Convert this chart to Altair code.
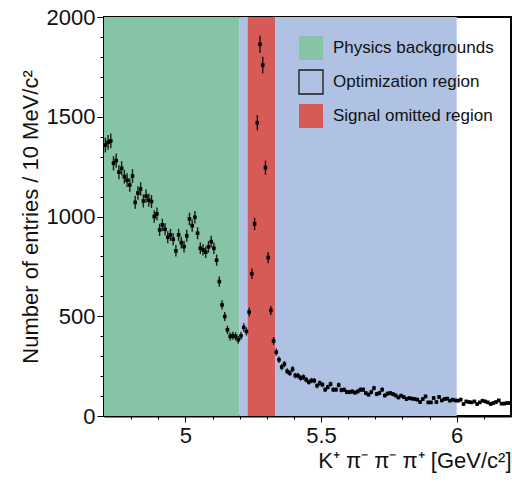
import altair as alt
import numpy as np
import pandas as pd

# ---- data (entries per 10 MeV/c^2 bin, 4.70 - 6.20 GeV/c^2)
bin_low = 4.70
bin_width = 0.01
counts = [
    1358, 1372, 1379, 1267, 1280, 1222, 1242, 1200, 1182, 1158, 1203, 1071, 1118, 1138,
    1078, 1102, 1082, 1075, 1000, 1013, 933, 958, 936, 896, 908, 886, 828, 908,
    869, 849, 903, 988, 954, 996, 916, 841, 833, 821, 848, 874, 841, 781, 674, 557,
    499, 432, 399, 402, 399, 382, 402, 444, 424,
    521, 713, 963, 1470, 1863, 1759, 1245, 794, 529, 376,
    320, 282, 245, 260, 224, 215, 235, 203, 202, 190, 195, 182, 170, 178, 177, 152,
    165, 157, 132, 145, 160, 132, 132, 155, 130, 132, 120, 120, 123, 117, 123, 132,
    132, 115, 107, 120, 140, 110, 115, 132, 103, 112,
    115, 110, 103, 93, 102, 95, 85, 90, 87, 85, 82, 70, 85, 98, 68, 68, 90, 70, 95,
    78, 85, 87, 77, 82, 78, 77, 82, 60, 73, 70, 68, 73, 60, 68, 77, 73, 68, 60, 65,
    70, 78, 62, 62, 65, 65,
]

region_names = ["Physics backgrounds", "Optimization region", "Signal omitted region"]
region_start = [4.70, 5.20, 5.23]
region_end = [5.20, 6.00, 5.33]
region_colors = ["#86C4A5", "#B0C2E3", "#D65A55"]

x_ticks = [4.8, 4.9, 5.0, 5.1, 5.2, 5.3, 5.4, 5.5, 5.6, 5.7, 5.8, 5.9, 6.0, 6.1]
y_ticks = list(range(0, 2001, 100))

centers = np.round(bin_low + bin_width * (np.arange(len(counts)) + 0.5), 4)
df = pd.DataFrame({"m": centers, "n": counts})
regions = pd.DataFrame({"name": region_names, "start": region_start, "end": region_end})

FONT = "Liberation Sans"

x_scale = alt.Scale(domain=[4.7, 6.2], nice=False, zero=False)
y_scale = alt.Scale(domain=[0, 2000], nice=False)

x_axis = alt.Axis(
    values=x_ticks,
    title="K⁺ π⁻ π⁻ π⁺ [GeV/c²]",
    titleAnchor="end",
    labelExpr="abs(datum.value*2 - round(datum.value*2)) < 0.001 ? '' + datum.value : ''",
    tickSize={"condition": {"test": "abs(datum.value*2 - round(datum.value*2)) < 0.001", "value": 6}, "value": 3},
    labelPadding=3,
    titlePadding=4,
)
y_axis = alt.Axis(
    values=y_ticks,
    title="Number of entries / 10 MeV/c²",
    labelExpr="datum.value % 500 == 0 ? '' + datum.value : ''",
    tickSize={"condition": {"test": "datum.value % 500 == 0", "value": 7}, "value": 4},
    labelPadding=2,
    titlePadding=4,
)

legend = alt.Legend(
    title=None,
    orient="none",
    legendX=194,
    legendY=18,
    symbolType="square",
    symbolSize=576,
    symbolStrokeWidth=1.3,
    symbolStrokeColor={"expr": "datum.label == 'Optimization region' ? '#1a1a1a' : 'transparent'"},
    symbolOpacity=1,
    labelFontSize=17,
    labelFont=FONT,
    labelColor="#111111",
    labelOffset=9,
    labelLimit=400,
    rowPadding=4,
    padding=0,
)

bands = alt.Chart(regions).mark_rect(opacity=1).encode(
    x=alt.X("start:Q", scale=x_scale, axis=x_axis),
    x2="end:Q",
    color=alt.Color(
        "name:N",
        scale=alt.Scale(domain=region_names, range=region_colors),
        legend=legend,
    ),
)

base = alt.Chart(df).transform_calculate(
    lo="datum.n - sqrt(datum.n)", hi="datum.n + sqrt(datum.n)"
)

errs = base.mark_rule(color="black", strokeWidth=1.4, opacity=0.85).encode(
    x=alt.X("m:Q", scale=x_scale, axis=x_axis),
    y=alt.Y("lo:Q", scale=y_scale, axis=y_axis),
    y2="hi:Q",
)

pts = base.mark_square(color="black", size=13, opacity=1).encode(
    x=alt.X("m:Q", scale=x_scale, axis=x_axis),
    y=alt.Y("n:Q", scale=y_scale, axis=y_axis),
)

chart = alt.layer(bands, errs, pts).properties(
    width=407,
    height=399,
    padding={"left": 104, "top": 17, "right": 1, "bottom": 69},
    autosize=alt.AutoSizeParams(type="none"),
).configure_view(
    stroke="black", strokeWidth=2
).configure_axis(
    grid=False,
    domainColor="black",
    domainWidth=2,
    tickColor="black",
    tickWidth=1,
    labelFont=FONT,
    labelFontSize=22,
    labelColor="#111111",
    titleFont=FONT,
    titleFontSize=22,
    titleFontWeight="normal",
    titleColor="#111111",
)

chart.save("out.html", embed_options={"renderer": "svg", "actions": False})
